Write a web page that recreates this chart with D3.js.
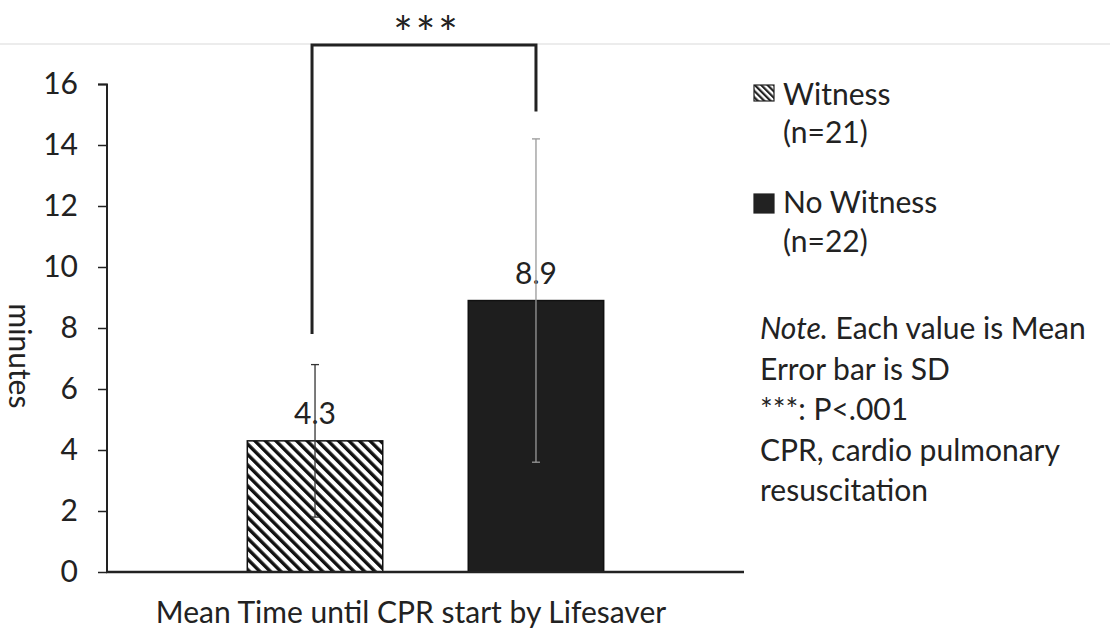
<!DOCTYPE html>
<html><head><meta charset="utf-8">
<script src="https://cdn.jsdelivr.net/npm/d3@7"></script>
<style>body{margin:0;background:#fff}svg{display:block}text{font-family:Lato,"Open Sans",sans-serif;fill:#222}</style>
</head><body><svg id="c" width="1110" height="635"></svg>
<script>
const categories = ["Witness", "No Witness"];
const means = [4.3, 8.9];
const sds = [2.5, 5.3];
const counts = [21, 22];
const yTicks = [0, 2, 4, 6, 8, 10, 12, 14, 16];
const bracketEnds = [7.8, 15.1];
const sigLabel = "***";
const xTitle = "Mean Time until CPR start by Lifesaver";
const yTitle = "minutes";
const noteLines = ["Each value is Mean", "Error bar is SD", "***: P<.001", "CPR, cardio pulmonary", "resuscitation"];

const FS = "30px";
const svg = d3.select("#c");
const x = d3.scaleBand().domain(categories).range([107, 744]).paddingInner(0.387).paddingOuter(0.635);
const y = d3.scaleLinear().domain([0, 16]).range([572, 84]);

const defs = svg.append("defs");
const pat = defs.append("pattern").attr("id","hatch").attr("patternUnits","userSpaceOnUse")
  .attr("width",7.4).attr("height",7.4).attr("patternTransform","rotate(-45)");
pat.append("rect").attr("width",7.4).attr("height",7.4).attr("fill","#fff");
pat.append("rect").attr("x",0).attr("width",3.4).attr("height",7.4).attr("fill","#111");
const pat2 = defs.append("pattern").attr("id","hatchS").attr("patternUnits","userSpaceOnUse")
  .attr("width",4.5).attr("height",4.5).attr("patternTransform","rotate(-45)");
pat2.append("rect").attr("width",4.5).attr("height",4.5).attr("fill","#fff");
pat2.append("rect").attr("width",2.2).attr("height",4.5).attr("fill","#222");

// faint scan line
svg.append("line").attr("x1",0).attr("x2",1110).attr("y1",44).attr("y2",44).attr("stroke","#e6e6e6").attr("stroke-width",1.5);

// y axis
const yAxis = d3.axisLeft(y).tickValues(yTicks).tickSize(9).tickPadding(20);
const ga = svg.append("g").attr("transform","translate(107,0)").call(yAxis);
ga.select(".domain").attr("stroke","#222").attr("stroke-width",2).attr("d","M-9,84.5H0V572");
ga.selectAll(".tick line").attr("stroke","#222").attr("stroke-width",1.5);
ga.selectAll(".tick text").style("font-size",FS).attr("fill","#222").style("font-family","Lato,sans-serif");

// bars
const fills = ["url(#hatch)", "#1e1e1e"];
svg.selectAll("rect.bar").data(categories).join("rect").attr("class","bar")
  .attr("x", d => x(d)).attr("width", x.bandwidth())
  .attr("y", (d,i) => y(means[i])).attr("height", (d,i) => y(0) - y(means[i]))
  .attr("fill", (d,i) => fills[i]).attr("stroke","#111").attr("stroke-width",1.5);

// x axis line
svg.append("line").attr("x1",106).attr("x2",744).attr("y1",y(0)).attr("y2",y(0)).attr("stroke","#222").attr("stroke-width",2.5);

// value labels
svg.selectAll("text.val").data(categories).join("text").attr("class","val")
  .attr("x", d => x(d) + x.bandwidth()/2).attr("y", (d,i) => y(means[i]) - 17)
  .attr("text-anchor","middle").style("font-size",FS).text((d,i) => means[i].toFixed(1));

// error bars
categories.forEach((c,i) => {
  const cx = x(c) + x.bandwidth()/2;
  const g = svg.append("g").attr("stroke", i === 0 ? "#333" : "#999").attr("stroke-width",1.3);
  g.append("line").attr("x1",cx).attr("x2",cx).attr("y1",y(means[i]+sds[i])).attr("y2",y(means[i]-sds[i]));
  [means[i]+sds[i], means[i]-sds[i]].forEach(v => g.append("line").attr("x1",cx-4).attr("x2",cx+4).attr("y1",y(v)).attr("y2",y(v)));
});

// significance bracket
const bx0 = x(categories[0]) + x.bandwidth()/2 - 3, bx1 = x(categories[1]) + x.bandwidth()/2;
svg.append("path").attr("fill","none").attr("stroke","#222").attr("stroke-width",3)
  .attr("d", `M${bx0},${y(bracketEnds[0])}V45H${bx1}V${y(bracketEnds[1])}`);
svg.append("text").attr("x",(bx0+bx1)/2 + 3).attr("y",50).attr("text-anchor","middle")
  .style("font-size","46px").style("letter-spacing","3px").text(sigLabel);

// axis titles
svg.append("text").attr("x",411).attr("y",623).attr("text-anchor","middle").style("font-size",FS).text(xTitle);
svg.append("text").attr("transform","translate(9,356) rotate(90)").attr("text-anchor","middle").style("font-size",FS).text(yTitle);

// legend
const legY = [85, 194];
const legH = [16, 19];
categories.forEach((c,i) => {
  svg.append("rect").attr("x",754).attr("y",legY[i]).attr("width",20).attr("height",legH[i])
    .attr("fill", i === 0 ? "url(#hatchS)" : "#222").attr("stroke","#222").attr("stroke-width",1.2);
  svg.append("text").attr("x",783).attr("y",legY[i]+20 + i*(-1)).style("font-size",FS).text(c);
  svg.append("text").attr("x",783).attr("y",legY[i]+58).style("font-size",FS).text(`(n=${counts[i]})`);
});

// note
const note = svg.append("g");
noteLines.forEach((t,i) => {
  const tx = note.append("text").attr("x",760).attr("y",339 + i*40.5).style("font-size",FS);
  if (i === 0) { tx.append("tspan").style("font-style","italic").text("Note."); tx.append("tspan").text("  " + t); }
  else tx.text(t);
});
</script></body></html>
